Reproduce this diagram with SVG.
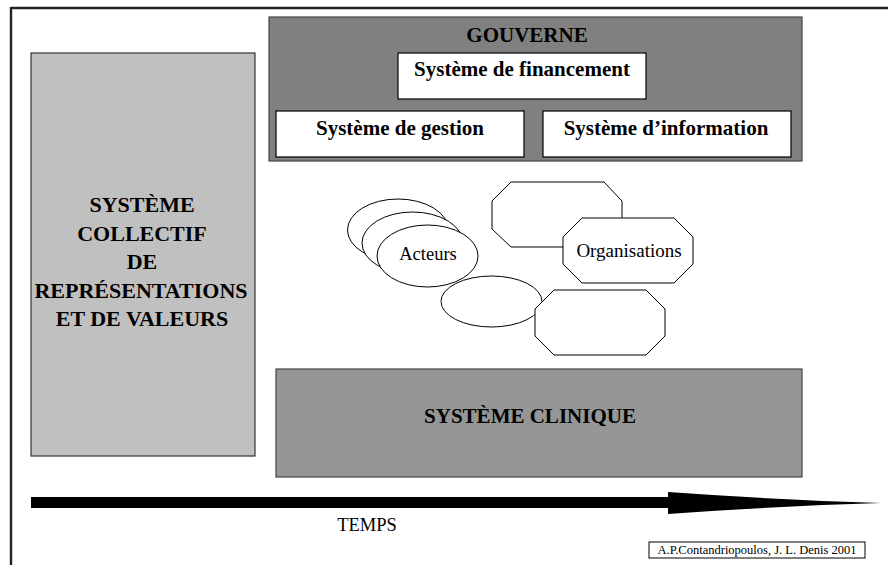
<svg xmlns="http://www.w3.org/2000/svg" width="888" height="565" viewBox="0 0 888 565">
<style>
.b{font-family:"Liberation Serif","Times New Roman",serif;font-weight:bold;fill:#000;text-anchor:middle}
.r{font-family:"Liberation Serif","Times New Roman",serif;fill:#000;text-anchor:middle}
.wb{fill:#fff;stroke:#000;stroke-width:1.2}
.sh{fill:#fff;stroke:#000;stroke-width:1}
</style>
<rect width="888" height="565" fill="#fff"/>
<g id="frame">
<line x1="11" y1="8" x2="888" y2="8" stroke="#222" stroke-width="2.4"/>
<line x1="11" y1="7" x2="11" y2="565" stroke="#222" stroke-width="2.4"/>
</g>
<g id="valeurs">
<rect x="31" y="53" width="224" height="403" fill="#C0C0C0" stroke="#333" stroke-width="1.2"/>
<text class="b" font-size="22" x="142" y="212">SYSTÈME</text>
<text class="b" font-size="22" x="142" y="240.5">COLLECTIF</text>
<text class="b" font-size="22" x="142" y="269">DE</text>
<text class="b" font-size="22" x="141" y="297.5">REPRÉSENTATIONS</text>
<text class="b" font-size="22" x="142" y="326">ET DE VALEURS</text>
</g>
<g id="gouverne">
<rect x="269" y="17" width="533" height="144" fill="#808080" stroke="#444" stroke-width="1.2"/>
<text class="b" font-size="21" x="527" y="42">GOUVERNE</text>
</g>
<g id="financement">
<rect class="wb" x="398" y="53" width="248" height="46"/>
<text class="b" font-size="21" x="522" y="76">Système de financement</text>
</g>
<g id="gestion">
<rect class="wb" x="276" y="111" width="248" height="46"/>
<text class="b" font-size="21" x="400" y="135">Système de gestion</text>
</g>
<g id="information">
<rect class="wb" x="543" y="111" width="248" height="46"/>
<text class="b" font-size="21" x="666" y="135">Système d’information</text>
</g>
<g id="acteurs">
<ellipse class="sh" cx="398" cy="230" rx="50.5" ry="31"/>
<ellipse class="sh" cx="412.5" cy="243" rx="50.5" ry="31"/>
<ellipse class="sh" cx="427.5" cy="256" rx="50.5" ry="31"/>
<text class="r" font-size="18.5" x="428" y="260">Acteurs</text>
</g>
<g id="organisations">
<polygon class="sh" points="511,182 604,182 622,201 622,229 604,247 511,247 492,229 492,201"/>
<polygon class="sh" points="582,218 674,218 693,237 693,264 674,283 582,283 563,264 563,237"/>
<text class="r" font-size="19" x="629" y="257">Organisations</text>
</g>
<g id="acteur2">
<ellipse class="sh" cx="491.5" cy="301.5" rx="50.5" ry="25.5"/>
</g>
<g id="organisation2">
<polygon class="sh" points="554,290 646,290 665,309 665,336 646,355 554,355 535,336 535,309"/>
</g>
<g id="clinique">
<rect x="276" y="369" width="526" height="108" fill="#969696" stroke="#444" stroke-width="1.2"/>
<text class="b" font-size="21" x="530" y="423">SYSTÈME CLINIQUE</text>
</g>
<g id="connectors">
<path d="M31,497 H668 V492 Q780,500 881,503 Q780,506 668,514 V508 H31 Z" fill="#000"/>
</g>
<g id="temps">
<text class="r" font-size="18.5" x="367" y="531">TEMPS</text>
</g>
<g id="credit">
<rect x="649" y="542" width="216" height="16" fill="#fff" stroke="#000" stroke-width="1"/>
<text class="r" font-size="12.5" x="757" y="554">A.P.Contandriopoulos, J. L. Denis 2001</text>
</g>
</svg>
